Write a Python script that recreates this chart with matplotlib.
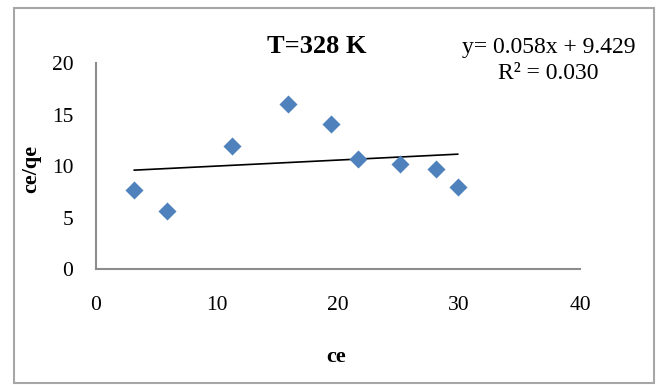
import matplotlib
matplotlib.use("Agg")
import matplotlib.pyplot as plt
from matplotlib.patches import Rectangle
import numpy as np

ce = [3.2, 5.9, 11.3, 15.9, 19.4, 21.7, 25.1, 28.1, 29.9]
ce_qe = [7.7, 5.7, 12.0, 16.0, 14.05, 10.7, 10.2, 9.7, 8.0]
slope = 0.058
intercept = 9.429
r2 = 0.030
x_ticks = [0, 10, 20, 30, 40]
y_ticks = [0, 5, 10, 15, 20]

plt.rcParams['font.family'] = ['Liberation Serif', 'DejaVu Serif']

fig = plt.figure(figsize=(6.62, 3.85), dpi=100)
ax = fig.add_axes([0.1443, 0.3005, 0.7319, 0.5358])

ax.scatter(ce, ce_qe, marker='D', s=9.2**2, color='#4F81BD', zorder=3, linewidths=0)
xl = np.array([min(ce), max(ce)])
ax.plot(xl, slope * xl + intercept, color='black', lw=1.2, zorder=2)

ax.set_xlim(0, 40)
ax.set_ylim(0, 20)
ax.set_xticks(x_ticks)
ax.set_yticks(y_ticks)
ax.tick_params(axis='both', length=0, labelsize=15.5)
ax.tick_params(axis='y', pad=16)
ax.tick_params(axis='x', pad=19)
for s in ['top', 'right']:
    ax.spines[s].set_visible(False)
for s in ['left', 'bottom']:
    ax.spines[s].set_color('#8c8c8c')
    ax.spines[s].set_linewidth(1.5)

fig.text(0.479, 0.878, 'T=328 K', ha='center', va='center', fontsize=19, fontweight='bold')
fig.text(0.829, 0.877, f'y= {slope:.3f}x + {intercept:.3f}', ha='center', va='center', fontsize=17)
fig.text(0.828, 0.81, f'R² = {r2:.3f}', ha='center', va='center', fontsize=17)
fig.text(0.047, 0.56, 'ce/qe', ha='center', va='center', rotation=90, fontsize=16, fontweight='bold')
fig.text(0.508, 0.073, 'ce', ha='center', va='center', fontsize=16, fontweight='bold')

fig.patches.append(Rectangle((14/662, 1 - 383/385), (654 - 14)/662, (383 - 8)/385,
                             transform=fig.transFigure, fill=False,
                             edgecolor='#a6a6a6', lw=1.5))

fig.savefig('out.png', dpi=100)
